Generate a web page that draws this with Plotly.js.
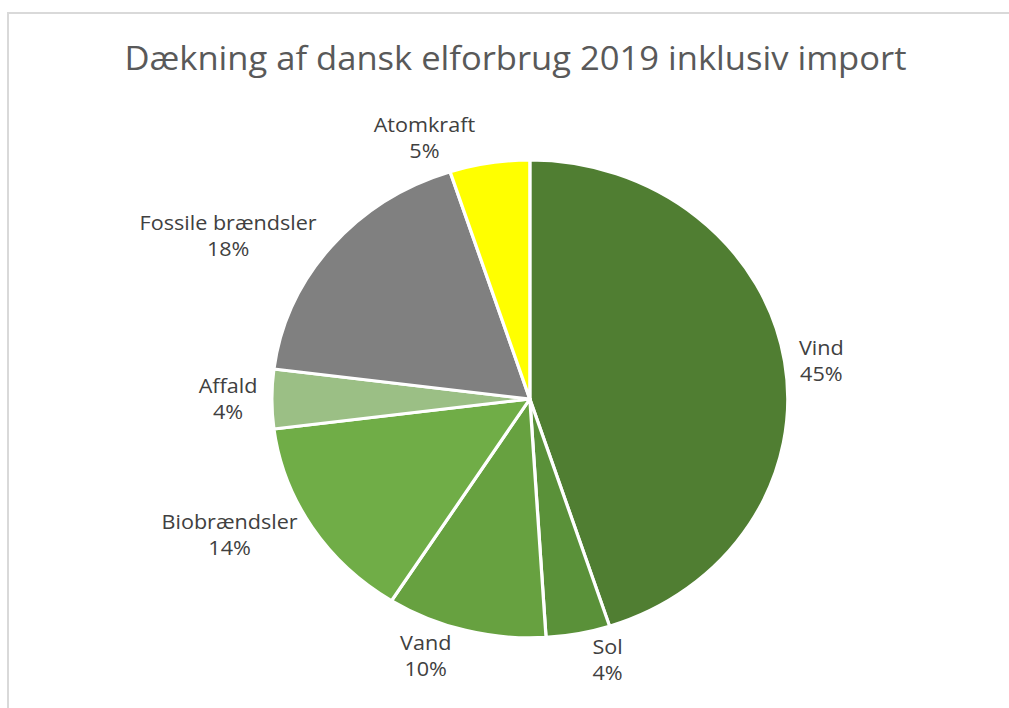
<!DOCTYPE html>
<html>
<head>
<meta charset="utf-8">
<script src="https://cdn.plot.ly/plotly-3.0.1.min.js"></script>
<style>
  html, body { margin: 0; padding: 0; background: #fff; overflow: hidden; }
  #frame { position: absolute; left: 7px; top: 12px; width: 1100px; height: 800px;
           border-left: 2px solid #D9D9D9; border-top: 2px solid #D9D9D9; }
  #chart { position: absolute; left: 0; top: 0; width: 934px; height: 708px;
           transform: scaleX(1.08); transform-origin: 0 0; }
</style>
</head>
<body>
<div id="frame"></div>
<div id="chart"></div>
<script>
const labels = ["Vind", "Sol", "Vand", "Biobrændsler", "Affald", "Fossile brændsler", "Atomkraft"];
const values = [45, 4, 10, 14, 4, 18, 5];
const colors = ["#507E32", "#5A9139", "#67A140", "#70AD47", "#9BBF85", "#808080", "#FFFF00"];

const trace = {
  type: "pie",
  labels: labels,
  values: values,
  sort: false,
  direction: "clockwise",
  rotation: 0,
  marker: { colors: colors, line: { color: "#FFFFFF", width: 3 } },
  textinfo: "label+percent",
  texttemplate: "%{label}<br>%{percent:.0%}",
  textposition: "outside",
  outsidetextfont: { family: "Open Sans", size: 20, color: "#404040" },
  domain: { x: [0.2695, 0.781], y: [0.099, 0.774] },
  automargin: false,
  showlegend: false,
  hoverinfo: "label+percent"
};

const layout = {
  width: 934, height: 708,
  margin: { l: 0, r: 0, t: 0, b: 0 },
  paper_bgcolor: "rgba(0,0,0,0)",
  plot_bgcolor: "rgba(0,0,0,0)",
  title: {
    text: "Dækning af dansk elforbrug 2019 inklusiv import",
    font: { family: "Open Sans", size: 32, color: "#595959" },
    x: 0.511, xanchor: "center", xref: "container",
    y: 0.917, yanchor: "middle", yref: "container"
  },
  showlegend: false
};

Plotly.newPlot("chart", [trace], layout, { displayModeBar: false, staticPlot: true });
</script>
</body>
</html>
